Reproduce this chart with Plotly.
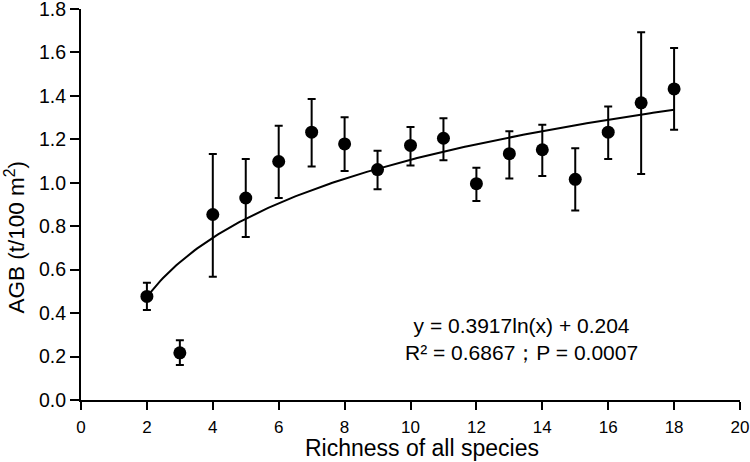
import numpy as np
import plotly.graph_objects as go

# Data
richness = [2, 3, 4, 5, 6, 7, 8, 9, 10, 11, 12, 13, 14, 15, 16, 17, 18]
agb_mean = [0.477, 0.217, 0.854, 0.930, 1.098, 1.233, 1.179, 1.061, 1.172, 1.205,
            0.996, 1.134, 1.152, 1.016, 1.233, 1.368, 1.432]
agb_upper = [0.540, 0.275, 1.132, 1.109, 1.263, 1.386, 1.302, 1.147, 1.257, 1.297,
             1.069, 1.237, 1.267, 1.159, 1.351, 1.693, 1.620]
agb_lower = [0.414, 0.161, 0.567, 0.750, 0.930, 1.075, 1.054, 0.970, 1.080, 1.104,
             0.916, 1.020, 1.031, 0.872, 1.109, 1.040, 1.244]

# Fitted logarithmic trend (coefficients shown on the chart)
fit_a = 0.3917
fit_b = 0.204
fit_x_min, fit_x_max = 2, 18

x_ticks = list(range(0, 21, 2))
y_ticks = [0.0, 0.2, 0.4, 0.6, 0.8, 1.0, 1.2, 1.4, 1.6, 1.8]

err_plus = [u - m for u, m in zip(agb_upper, agb_mean)]
err_minus = [m - l for m, l in zip(agb_mean, agb_lower)]

fx = np.linspace(fit_x_min, fit_x_max, 200)
fy = fit_a * np.log(fx) + fit_b

fig = go.Figure()
fig.add_trace(go.Scatter(x=fx, y=fy, mode="lines",
                         line=dict(color="black", width=2), hoverinfo="skip"))
fig.add_trace(go.Scatter(
    x=richness, y=agb_mean, mode="markers",
    marker=dict(color="black", size=13),
    error_y=dict(type="data", symmetric=False, array=err_plus, arrayminus=err_minus,
                 color="black", thickness=2, width=4),
))

font_main = "Liberation Sans, Arial, sans-serif"

fig.update_layout(
    width=750, height=462,
    margin=dict(l=81, r=10, t=9, b=62),
    paper_bgcolor="white", plot_bgcolor="white",
    showlegend=False,
    font=dict(family=font_main, color="black"),
    xaxis=dict(range=[0, 20], tickvals=x_ticks, ticktext=[str(v) for v in x_ticks],
               showline=True, linecolor="black", linewidth=2,
               ticks="outside", ticklen=8, tickwidth=2, tickcolor="black",
               showgrid=False, zeroline=False, ticklabeloverflow="allow",
               automargin=False, ticklabelstandoff=3,
               tickfont=dict(size=17, family=font_main)),
    yaxis=dict(range=[0, 1.8], tickvals=y_ticks, ticktext=[f"{v:.1f}" for v in y_ticks],
               showline=True, linecolor="black", linewidth=2,
               ticks="outside", ticklen=9, tickwidth=2, tickcolor="black",
               showgrid=False, zeroline=False, ticklabeloverflow="allow",
               automargin=False,
               tickfont=dict(size=19.5, family=font_main)),
    annotations=[
        dict(text="Richness of all species", xref="paper", yref="paper",
             x=0.5167, y=-0.124, xanchor="center", yanchor="middle", showarrow=False,
             font=dict(size=23, family=font_main)),
        dict(text="AGB (t/100 m<sup>2</sup>)", xref="paper", yref="paper",
             x=-0.100, y=0.416, xanchor="center", yanchor="middle", showarrow=False,
             textangle=-90, font=dict(size=22.5, family=font_main)),
        dict(text="y = 0.3917ln(x) + 0.204<br>R² = 0.6867；P = 0.0007",
             xref="x", yref="y", x=13.38, y=0.281, xanchor="center", yanchor="middle",
             showarrow=False, align="center", font=dict(size=21, family=font_main)),
    ],
)

fig.write_html("out.html")
